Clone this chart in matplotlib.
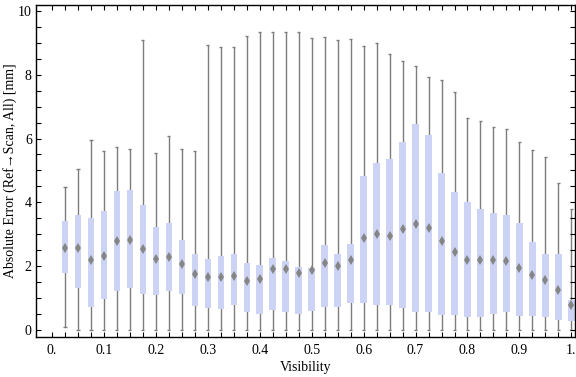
import matplotlib
matplotlib.use("Agg")
import matplotlib.pyplot as plt
import numpy as np

visibility = [0.025, 0.05, 0.075, 0.1, 0.125, 0.15, 0.175, 0.2, 0.225, 0.25,
              0.275, 0.3, 0.325, 0.35, 0.375, 0.4, 0.425, 0.45, 0.475, 0.5,
              0.525, 0.55, 0.575, 0.6, 0.625, 0.65, 0.675, 0.7, 0.725, 0.75,
              0.775, 0.8, 0.825, 0.85, 0.875, 0.9, 0.925, 0.95, 0.975, 1.0]

whisker_low = [0.08, 0, 0, 0, 0, 0, 0, 0, 0, 0,
               0, 0, 0, 0, 0, 0, 0, 0, 0, 0,
               0, 0, 0, 0, 0, 0, 0, 0, 0, 0,
               0, 0, 0, 0, 0, 0, 0, 0, 0, 0]
q1 = [1.80, 1.33, 0.73, 0.98, 1.23, 1.30, 1.14, 1.11, 1.23, 1.14,
      0.76, 0.70, 0.67, 0.79, 0.55, 0.51, 0.62, 0.57, 0.51, 0.61,
      0.73, 0.73, 0.86, 0.86, 0.79, 0.79, 0.70, 0.57, 0.57, 0.48,
      0.48, 0.42, 0.42, 0.51, 0.57, 0.45, 0.45, 0.42, 0.32, 0.29]
median = [2.56, 2.57, 2.19, 2.33, 2.78, 2.82, 2.53, 2.24, 2.29, 2.06,
          1.75, 1.67, 1.66, 1.69, 1.55, 1.59, 1.90, 1.92, 1.79, 1.87,
          2.09, 2.01, 2.19, 2.87, 3.00, 2.93, 3.17, 3.31, 3.20, 2.80,
          2.45, 2.19, 2.18, 2.19, 2.15, 1.93, 1.73, 1.56, 1.25, 0.79]
q3 = [3.41, 3.59, 3.50, 3.73, 4.36, 4.39, 3.92, 3.22, 3.35, 2.82,
      2.38, 2.23, 2.32, 2.38, 2.10, 2.04, 2.26, 2.16, 1.97, 1.95,
      2.66, 2.38, 2.70, 4.83, 5.22, 5.36, 5.89, 6.46, 6.11, 4.92,
      4.33, 4.01, 3.79, 3.67, 3.61, 3.35, 2.76, 2.38, 2.38, 0.94]
whisker_high = [4.49, 5.06, 5.94, 5.62, 5.73, 5.66, 9.08, 5.56, 6.07, 5.66,
                5.62, 8.92, 8.86, 8.86, 9.21, 9.33, 9.33, 9.33, 9.33, 9.14,
                9.17, 9.08, 9.11, 8.89, 8.99, 8.64, 8.42, 8.27, 7.92, 7.83,
                7.45, 6.64, 6.54, 6.35, 6.29, 5.90, 5.65, 5.41, 4.62, 3.78]

x_ticks = [0.0, 0.1, 0.2, 0.3, 0.4, 0.5, 0.6, 0.7, 0.8, 0.9, 1.0]
x_tick_labels = ["0.", "0.1", "0.2", "0.3", "0.4", "0.5", "0.6", "0.7", "0.8", "0.9", "1."]
y_ticks = [0, 2, 4, 6, 8, 10]
y_tick_labels = ["0", "2", "4", "6", "8", "10"]

plt.rcParams['font.family'] = ['Liberation Serif', 'DejaVu Serif']

fig = plt.figure(figsize=(5.76, 3.77), dpi=100)
ax = fig.add_axes([36/576, 40/377, 539/576, 332.5/377])

x = np.array(visibility)
lo = np.array(whisker_low)
hi = np.array(whisker_high)
b1 = np.array(q1)
b3 = np.array(q3)
med = np.array(median)

gray = "#7d7d7d"
box_color = "#cdd3f4"
box_w = 0.0125
cap_w = 0.006

ax.vlines(x, lo, hi, color=gray, lw=1.0, zorder=1)
ax.hlines(hi, x - cap_w / 2, x + cap_w / 2, color=gray, lw=1.0, zorder=1)
ax.hlines(lo, x - cap_w / 2, x + cap_w / 2, color=gray, lw=1.0, zorder=1)
ax.bar(x, b3 - b1, bottom=b1, width=box_w, color=box_color, edgecolor="none", zorder=2)
ax.plot(x, med, linestyle="none", marker="d", markersize=5, markeredgewidth=0,
        color="#858585", zorder=3)

ax.set_xlim(-0.0308, 1.007)
ax.set_ylim(-0.22, 10.2)

ax.set_xticks(x_ticks)
ax.set_xticklabels(x_tick_labels)
ax.set_xticks(np.arange(0, 1.0001, 0.025), minor=True)
ax.set_yticks(y_ticks)
ax.set_yticklabels(y_tick_labels)
ax.set_yticks(np.arange(0, 10.001, 0.5), minor=True)

ax.tick_params(which="both", direction="in", top=True, right=True, length=3.5,
               width=0.8, labelsize=10, color="black")
ax.tick_params(axis="x", which="major", pad=5)
ax.tick_params(axis="y", which="major", pad=3)
for s in ax.spines.values():
    s.set_linewidth(1.0)

ax.set_xlabel("Visibility", fontsize=10, labelpad=3)
ax.set_ylabel("Absolute Error (Ref\u2192Scan, All) [mm]", fontsize=10)
ax.yaxis.set_label_coords(-0.036, 0.5)

fig.savefig("out.png", dpi=100)
